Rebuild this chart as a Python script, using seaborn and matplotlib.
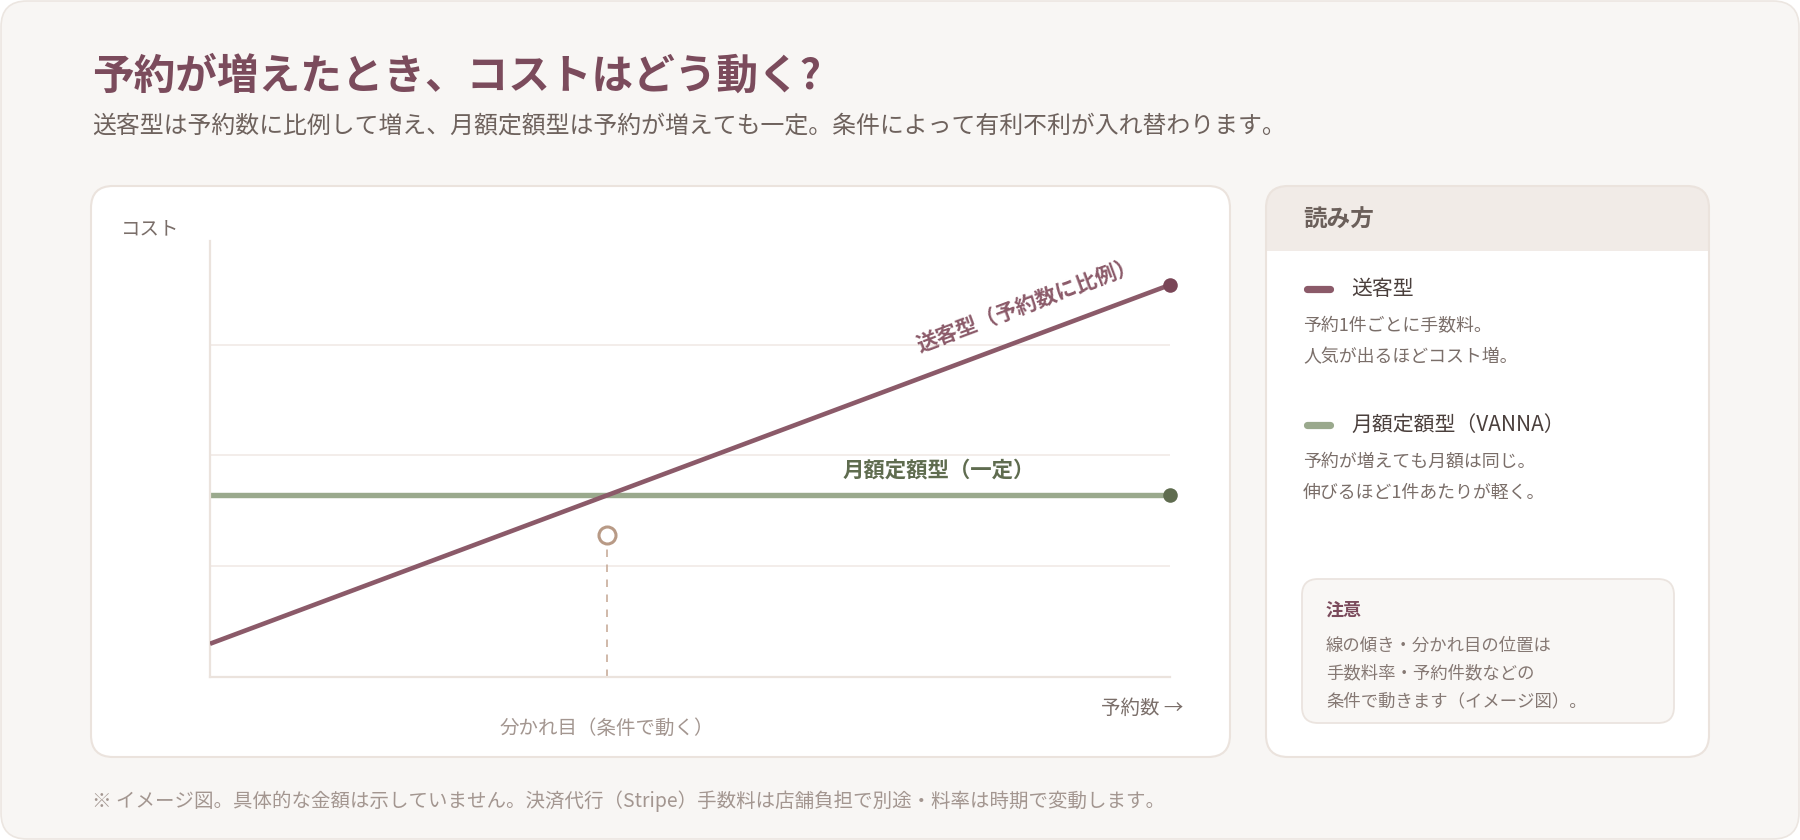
import matplotlib
matplotlib.use("Agg")
import matplotlib.pyplot as plt
from matplotlib.patches import FancyBboxPatch, Rectangle
import numpy as np
import pandas as pd
import seaborn as sns

sns.set_theme(style="white")
plt.rcParams['font.family'] = ['Noto Sans CJK JP', 'DejaVu Sans']

# --- data (イメージ図なので相対値) ---
bookings = [0, 100]
commission_cost = [7.5, 88.5]   # 送客型
flat_cost = [41, 41]            # 月額定額型
marker_cost = 32                # 分かれ目マーカーの高さ
grid_levels = [25, 50, 75]

plan_keys = ['送客型', '月額定額型']
line_labels = ['送客型（予約数に比例）', '月額定額型（一定）']
legend_names = ['送客型', '月額定額型（VANNA）']
legend_desc = [['予約1件ごとに手数料。', '人気が出るほどコスト増。'],
               ['予約が増えても月額は同じ。', '伸びるほど1件あたりが軽く。']]
note_lines = ['線の傾き・分かれ目の位置は', '手数料率・予約件数などの', '条件で動きます（イメージ図）。']

title = '予約が増えたとき、コストはどう動く?'
subtitle = '送客型は予約数に比例して増え、月額定額型は予約が増えても一定。条件によって有利不利が入れ替わります。'
footnote = '※ イメージ図。具体的な金額は示していません。決済代行（Stripe）手数料は店舗負担で別途・料率は時期で変動します。'

line_colors = {'送客型': '#8b5a69', '月額定額型': '#9aa98d'}
dot_colors = {'送客型': '#7a4657', '月額定額型': '#5f6c4f'}

df = pd.DataFrame({
    'bookings': bookings * 2,
    'cost': commission_cost + flat_cost,
    'plan': [plan_keys[0]] * 2 + [plan_keys[1]] * 2,
})

slope = (commission_cost[1] - commission_cost[0]) / (bookings[1] - bookings[0])
breakeven = (flat_cost[0] - commission_cost[0]) / slope

fig = plt.figure(figsize=(18, 8.4), dpi=100, facecolor='white')

# 背景レイヤー（ピクセル座標）
bg = fig.add_axes([0, 0, 1, 1])
bg.set_xlim(0, 1800)
bg.set_ylim(840, 0)
bg.axis('off')

bg.add_patch(FancyBboxPatch((1, 1), 1798, 838, boxstyle='round,pad=0,rounding_size=26',
                            fc='#f8f6f4', ec='#ece6e1', lw=1.2))
# 左カード
bg.add_patch(FancyBboxPatch((91, 186), 1139, 571, boxstyle='round,pad=0,rounding_size=22',
                            fc='white', ec='#ebe3dd', lw=1.5))
# 右カード
card = FancyBboxPatch((1266, 186), 443, 571, boxstyle='round,pad=0,rounding_size=22',
                      fc='white', ec='none')
bg.add_patch(card)
head = Rectangle((1266, 186), 443, 65, fc='#f1ebe7', ec='none')
bg.add_patch(head)
head.set_clip_path(card)
bg.add_patch(FancyBboxPatch((1266, 186), 443, 571, boxstyle='round,pad=0,rounding_size=22',
                            fc='none', ec='#ebe3dd', lw=1.5))
# 注意ボックス
bg.add_patch(FancyBboxPatch((1302, 579), 372, 144, boxstyle='round,pad=0,rounding_size=16',
                            fc='#f9f7f5', ec='#ebe4df', lw=1.3))

bg.text(92, 77, title, fontsize=30, fontweight='bold', color='#7b4b5c', va='center')
bg.text(92, 126, subtitle, fontsize=17.2, color='#6e625d', va='center')
bg.text(92, 801, footnote, fontsize=14, color='#a39690', va='center')

bg.text(1303, 220, '読み方', fontsize=17, fontweight='bold', color='#6b5f5a', va='center')
for i, (name, key) in enumerate(zip(legend_names, plan_keys)):
    y0 = 289 + i * 136
    bg.plot([1307, 1330], [y0, y0], color=line_colors[key], lw=5.2, solid_capstyle='round')
    bg.text(1351, y0, name, fontsize=15, color='#4a3f3c', va='center')
    for j, t in enumerate(legend_desc[i]):
        bg.text(1303, y0 + 37 + j * 31, t, fontsize=12.9, color='#7a6e69', va='center')

bg.text(1326, 610, '注意', fontsize=13, fontweight='bold', color='#7b4b5c', va='center')
for j, t in enumerate(note_lines):
    bg.text(1326, 646 + j * 27.5, t, fontsize=12.5, color='#857873', va='center')

bg.text(121, 229, 'コスト', fontsize=14, color='#7a6e69', va='center')
bg.text(1183, 708, '予約数 →', fontsize=14, color='#7a6e69', va='center', ha='right')

# グラフ本体
ax = fig.add_axes([210 / 1800, 1 - 677 / 840, 960 / 1800, 436 / 840])
ax.set_facecolor('none')
ax.set_xlim(0, 100)
ax.set_ylim(0, 98.4)
for g in grid_levels:
    ax.axhline(g, color='#f2ece8', lw=1.3, zorder=0)

sns.lineplot(data=df, x='bookings', y='cost', hue='plan', palette=line_colors,
             ax=ax, legend=False, zorder=3)
lws = {'送客型': 3.3, '月額定額型': 3.9}
for ln, key in zip(ax.get_lines()[-2:], plan_keys):
    ln.set_linewidth(lws[key])
    ln.set_solid_capstyle('butt')
# 緑線を紫線の下に
ax.get_lines()[-1].set_zorder(2)

ax.scatter([bookings[-1]], [commission_cost[-1]], s=110, color=dot_colors['送客型'],
           zorder=5, clip_on=False, linewidths=0)
ax.scatter([bookings[-1]], [flat_cost[-1]], s=110, color=dot_colors['月額定額型'],
           zorder=5, clip_on=False, linewidths=0)

# 分かれ目
ax.plot([breakeven, breakeven], [0, marker_cost - 2.5], color='#c8ad9b', lw=1.2,
        ls=(0, (4.5, 4.5)), zorder=1)
ax.scatter([breakeven], [marker_cost], s=150, facecolors='white', edgecolors='#b89a86',
           linewidths=2.2, zorder=6)
ax.text(breakeven, -11.5, '分かれ目（条件で動く）', fontsize=14, color='#a39690',
        ha='center', va='center')

ax.text(85.1, 84.0, line_labels[0], fontsize=15.3, fontweight='bold', color='#8b5a69',
        ha='center', va='center', rotation=20.5, rotation_mode='anchor')
ax.text(75.9, 46.7, line_labels[1], fontsize=15.4, fontweight='bold', color='#5f6c4f',
        ha='center', va='center')

ax.set_xlabel('')
ax.set_ylabel('')
ax.set_xticks([])
ax.set_yticks([])
for s in ['top', 'right']:
    ax.spines[s].set_visible(False)
for s in ['left', 'bottom']:
    ax.spines[s].set_color('#ebe3dd')
    ax.spines[s].set_linewidth(1.6)

fig.savefig('out.png', dpi=100, facecolor='white')
